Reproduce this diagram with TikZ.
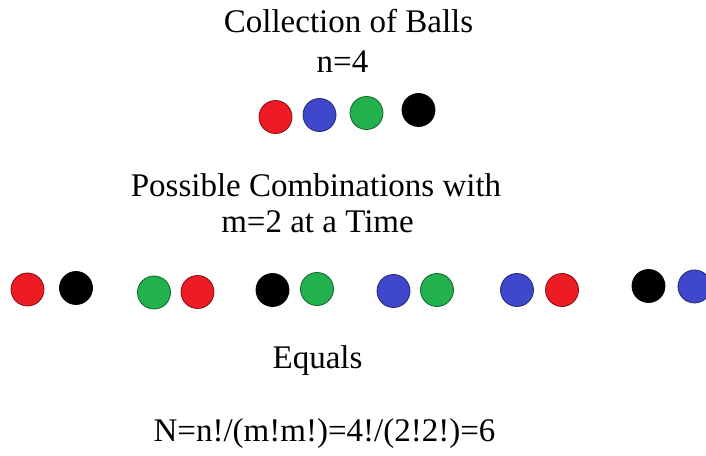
\documentclass[tikz,border=0pt]{standalone}
\usepackage{fontspec}
\setmainfont{Liberation Serif}
\definecolor{pred}{HTML}{ED1C24}
\definecolor{pblue}{HTML}{3F48CC}
\definecolor{pgreen}{HTML}{22B14C}
\definecolor{pblack}{HTML}{000000}
\tikzset{
  ball/.style={circle, minimum size=33pt, inner sep=0pt, line width=0.8pt},
  rb/.style={ball, fill=pred, draw=pred!55!black},
  bb/.style={ball, fill=pblue, draw=pblue!55!black},
  gb/.style={ball, fill=pgreen, draw=pgreen!55!black},
  kb/.style={ball, fill=pblack, draw=pblack},
  lbl/.style={anchor=base, inner sep=0pt, font=\fontsize{33}{40}\selectfont}
}
\begin{document}
\begin{tikzpicture}[x=1pt,y=1pt]
\useasboundingbox (0,0) rectangle (706,455);
\clip (0,0) rectangle (706,455);
% titles
\node[lbl] (t1) at (348.5,422) {Collection of Balls};
\node[lbl] (t2) at (342.5,382) {n=4};
\node[lbl] (t3) at (316,258) {Possible Combinations with};
\node[lbl] (t4) at (317.5,222) {m=2 at a Time};
\node[lbl] (t5) at (317.5,87) {Equals};
\node[lbl] (t6) at (324.5,14) {N=n!/(m!m!)=4!/(2!2!)=6};
% collection
\node[rb] (c1) at (275.5,338) {};
\node[bb] (c2) at (319.5,340) {};
\node[gb] (c3) at (366.5,342) {};
\node[kb] (c4) at (418.5,345) {};
% combinations
\node[rb] (a1) at (27.5,165.5) {};
\node[kb] (a2) at (76,167) {};
\node[gb] (b1) at (154,162.5) {};
\node[rb] (b2) at (197.5,163) {};
\node[kb] (d1) at (272.5,165) {};
\node[gb] (d2) at (317,166) {};
\node[bb] (e1) at (393.5,164) {};
\node[gb] (e2) at (437,165) {};
\node[bb] (f1) at (517,165) {};
\node[rb] (f2) at (562,165) {};
\node[kb] (g1) at (648.5,169) {};
\node[bb] (g2) at (694.5,168.5) {};
\end{tikzpicture}
\end{document}
